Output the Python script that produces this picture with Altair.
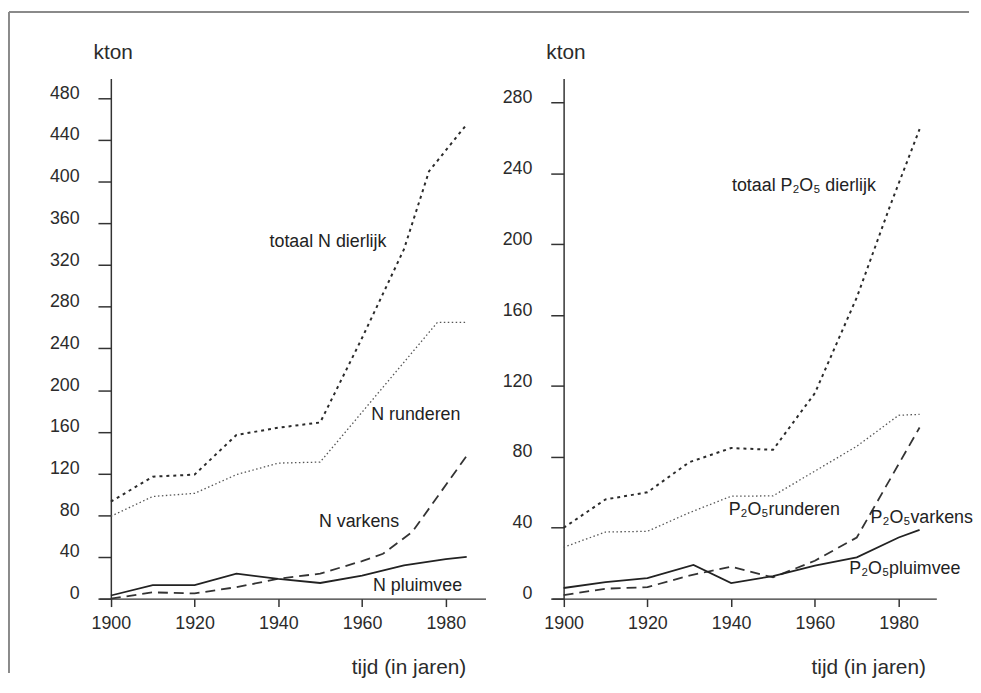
import altair as alt
import pandas as pd

# ---------------- data ----------------
# Left panel: N (kton)
n_tot_years = [1900, 1910, 1920, 1930, 1940, 1950, 1960, 1970, 1976, 1985]
n_tot_vals = [93, 117, 119, 157, 164, 169, 250, 335, 410, 455]
n_rund_years = [1900, 1910, 1920, 1930, 1940, 1950, 1978, 1985]
n_rund_vals = [79, 98, 101, 119, 130, 131, 265, 265]
n_vark_years = [1900, 1910, 1920, 1930, 1940, 1950, 1960, 1965, 1972, 1985]
n_vark_vals = [0, 6, 5, 11, 19, 24, 36, 43, 64, 137]
n_pluim_years = [1900, 1910, 1920, 1930, 1940, 1950, 1960, 1970, 1980, 1985]
n_pluim_vals = [3, 13, 13, 24, 19, 15, 22, 32, 38, 40]

# Right panel: P2O5 (kton)
p_tot_years = [1900, 1910, 1920, 1930, 1940, 1950, 1960, 1970, 1978, 1985]
p_tot_vals = [40, 56, 60, 77, 85, 84, 116, 170, 222, 265]
p_rund_years = [1900, 1910, 1920, 1930, 1940, 1950, 1960, 1970, 1980, 1985]
p_rund_vals = [29, 37.6, 38, 48.5, 57.8, 58, 72, 86, 103.5, 104]
p_vark_years = [1900, 1910, 1920, 1930, 1940, 1950, 1960, 1970, 1985]
p_vark_vals = [2, 5.6, 6.5, 13, 18, 12, 21.4, 34.5, 96.6]
p_pluim_years = [1900, 1910, 1920, 1931, 1940, 1950, 1960, 1970, 1980, 1985]
p_pluim_vals = [6, 9.3, 11.6, 19, 8.8, 12.7, 18.6, 23.3, 34.5, 38.8]

# series labels (text, year, value)
n_label_text = ["totaal N dierlijk", "N runderen", "N varkens", "N pluimvee"]
n_label_year = [1937.9, 1962.2, 1949.7, 1962.6]
n_label_val = [342, 176, 73, 12.5]
p_label_text = ["totaal P\u2082O\u2085 dierlijk", "P\u2082O\u2085runderen",
                "P\u2082O\u2085varkens", "P\u2082O\u2085pluimvee"]
p_label_year = [1940.2, 1939.4, 1973.3, 1968.2]
p_label_val = [233, 50, 45.7, 16.8]

x_ticks = [1900, 1920, 1940, 1960, 1980]
n_y_ticks = list(range(0, 481, 40))
p_y_ticks = list(range(0, 281, 40))

FONT = "Liberation Sans"
INK = "#2b2b2b"

STYLES = [
    dict(strokeDash=[3, 4], strokeWidth=2.0, color="#2a2a2a"),      # totaal
    dict(strokeDash=[1.5, 2.5], strokeWidth=1.3, color="#555555"),  # runderen
    dict(strokeDash=[10, 6], strokeWidth=1.8, color="#333333"),     # varkens
    dict(strokeWidth=1.8, color="#222222"),                          # pluimvee
]


def panel(series, lab_text, lab_year, lab_val, ydomain, yticks, width, xdomain, title_x, frame=False):
    xenc = alt.X(
        "year:Q",
        scale=alt.Scale(domain=xdomain, nice=False, zero=False),
        axis=alt.Axis(
            values=x_ticks, format="d", grid=False,
            title="tijd (in jaren)", titleFont=FONT, titleFontSize=21,
            titleFontWeight="normal", titleColor=INK,
            titleX=title_x, titleY=76, titleAlign="right", titleBaseline="alphabetic",
            labelFont=FONT, labelFontSize=18, labelColor=INK, labelPadding=8,
            tickSize=8, tickWidth=1.5, tickColor="#333333",
            domainColor="#333333", domainWidth=1.5,
        ),
    )
    yenc = alt.Y(
        "value:Q",
        scale=alt.Scale(domain=ydomain, nice=False, zero=False),
        axis=alt.Axis(
            values=yticks, grid=False, offset=-11.8,
            title="kton", titleAngle=0, titleFont=FONT, titleFontSize=21,
            titleFontWeight="normal", titleColor=INK,
            titleX=-18, titleY=-20, titleAlign="left", titleBaseline="alphabetic",
            labelFont=FONT, labelFontSize=18, labelColor=INK, labelPadding=19,
            labelOffset=-5,
            tickSize=13, tickWidth=1.5, tickColor="#333333",
            domainColor="#333333", domainWidth=1.5,
        ),
    )
    layers = []
    for (yrs, vals), st in zip(series, STYLES):
        df = pd.DataFrame({"year": yrs, "value": vals})
        layers.append(
            alt.Chart(df).mark_line(interpolate="linear", **st).encode(x=xenc, y=yenc)
        )
    ldf = pd.DataFrame({"year": lab_year, "value": lab_val, "label": lab_text})
    layers.append(
        alt.Chart(ldf).mark_text(
            align="left", baseline="middle", font=FONT, fontSize=18, color="#222222"
        ).encode(x=xenc, y=yenc, text="label:N")
    )
    if frame:
        one = pd.DataFrame({"a": [0]})
        layers.append(
            alt.Chart(one).mark_rule(color="#8a8a8a", strokeWidth=2).encode(
                x=alt.value(-91), y=alt.value(-67), y2=alt.value(600)
            )
        )
        layers.append(
            alt.Chart(one).mark_rule(color="#8a8a8a", strokeWidth=2).encode(
                x=alt.value(-91), x2=alt.value(878), y=alt.value(-67)
            )
        )
    return alt.layer(*layers).properties(width=width, height=525)


left = panel(
    [(n_tot_years, n_tot_vals), (n_rund_years, n_rund_vals),
     (n_vark_years, n_vark_vals), (n_pluim_years, n_pluim_vals)],
    n_label_text, n_label_year, n_label_val,
    [0, 499], n_y_ticks, 390, [1897.2, 1989.5], 370, frame=True,
)
right = panel(
    [(p_tot_years, p_tot_vals), (p_rund_years, p_rund_vals),
     (p_vark_years, p_vark_vals), (p_pluim_years, p_pluim_vals)],
    p_label_text, p_label_year, p_label_val,
    [0, 293.6], p_y_ticks, 388, [1897.2, 1989.0], 377,
)

chart = alt.hconcat(left, right, spacing=67, bounds="flush").properties(
    padding={"left": 0, "top": 0, "right": 0, "bottom": 0},
    background="white",
).configure_view(stroke=None)

chart.save("out.html", embed_options={"renderer": "svg", "actions": False})
